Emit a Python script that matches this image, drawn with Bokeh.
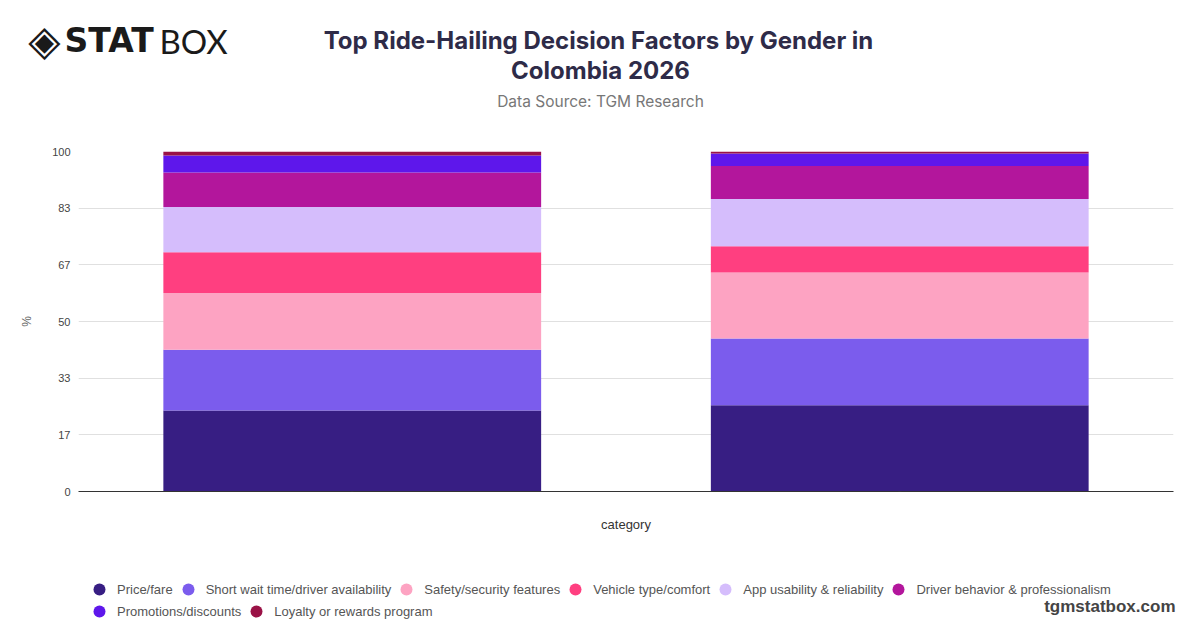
from bokeh.plotting import figure
from bokeh.layouts import column
from bokeh.models import (ColumnDataSource, FactorRange, FixedTicker, Legend, LegendItem, Label, Range1d)
from bokeh.embed import file_html
from bokeh.resources import INLINE

# ---- data ----
genders = ["Male", "Female"]
factors = ["Price/fare", "Short wait time/driver availability", "Safety/security features",
           "Vehicle type/comfort", "App usability & reliability", "Driver behavior & professionalism",
           "Promotions/discounts", "Loyalty or rewards program"]
male_values = [23.8, 17.9, 16.7, 12.0, 13.3, 10.1, 5.0, 1.2]
female_values = [25.4, 19.6, 19.4, 7.7, 13.9, 9.7, 3.7, 0.6]
colors = ["#371e83", "#7b5ced", "#fda3c2", "#ff3f80", "#d5bdfc", "#b3169c", "#5e17eb", "#9a1246"]
y_ticks = [0, 100 / 6, 200 / 6, 50, 400 / 6, 500 / 6, 100]
y_tick_labels = ["0", "17", "33", "50", "67", "83", "100"]

title_line1 = "Top Ride-Hailing Decision Factors by Gender in"
title_line2 = "Colombia 2026"
subtitle = "Data Source: TGM Research"
watermark = "tgmstatbox.com"

W = 1200
HEAD_H, MAIN_H, FOOT_H = 140, 400, 88


def blank_fig(h, y0):
    f = figure(width=W, height=h, x_range=Range1d(0, W), y_range=Range1d(y0 + h, y0),
               output_backend="svg", toolbar_location=None, x_axis_type=None, y_axis_type=None,
               min_border=0, frame_align=False)
    f.outline_line_color = None
    f.xgrid.visible = False
    f.ygrid.visible = False
    return f


def lab(f, x, y, text, size, color, font, style="normal", align="left"):
    f.add_layout(Label(x=x, y=y, text=text, text_align=align, text_baseline="middle",
                       text_font=font, text_font_size=size, text_font_style=style,
                       text_color=color))


# ---- header ----
head = blank_fig(HEAD_H, 0)
lab(head, 598, 40, title_line1, "24px", "#2e2b48", "Inter", "bold", "center")
lab(head, 600, 70, title_line2, "24px", "#2e2b48", "Inter", "bold", "center")
lab(head, 600, 101, subtitle, "15.5px", "#777777", "Inter", "normal", "center")
lab(head, 44, 40, "\u25c8", "42px", "#1a1a1a", "DejaVu Sans", "normal", "center")
lab(head, 64, 40, "STAT", "33px", "#1a1a1a", "DejaVu Sans", "bold", "left")
lab(head, 159, 40, "BOX", "33px", "#1a1a1a", "Lato", "normal", "left")

# ---- main chart ----
data = {"gender": genders}
for i, f in enumerate(factors):
    data[f] = [male_values[i], female_values[i]]
source = ColumnDataSource(data)

p = figure(width=W, height=MAIN_H, x_range=FactorRange(*genders, range_padding=0), y_range=(0, 100),
           output_backend="svg", toolbar_location=None, frame_align=False,
           min_border_left=78, min_border_right=27, min_border_top=11, min_border_bottom=49)
p.outline_line_color = None

p.vbar_stack(factors, x="gender", width=0.69, color=colors, line_color=None, source=source)

p.yaxis.ticker = FixedTicker(ticks=y_ticks)
p.yaxis.major_label_overrides = {t: l for t, l in zip(y_ticks, y_tick_labels)}
p.yaxis.axis_line_color = None
p.yaxis.major_tick_line_color = None
p.yaxis.minor_tick_line_color = None
p.yaxis.major_tick_out = 0
p.yaxis.major_label_standoff = 8
p.yaxis.major_label_text_font = "Liberation Sans"
p.yaxis.major_label_text_font_size = "11px"
p.yaxis.major_label_text_color = "#444444"
p.yaxis.axis_label = "%"
p.yaxis.axis_label_text_font = "Liberation Sans"
p.yaxis.axis_label_text_font_size = "12px"
p.yaxis.axis_label_text_font_style = "normal"
p.yaxis.axis_label_text_color = "#666666"
p.yaxis.axis_label_standoff = 15
p.ygrid.grid_line_color = "#e0e0e0"
p.ygrid.ticker = FixedTicker(ticks=y_ticks)

p.xgrid.grid_line_color = None
p.xaxis.axis_line_color = "#333333"
p.xaxis.major_tick_line_color = None
p.xaxis.major_tick_out = 0
p.xaxis.major_label_standoff = 0
p.xaxis.major_label_overrides = {g: "" for g in genders}
p.xaxis.major_label_text_font_size = "1px"
p.xaxis.axis_label = "category"
p.xaxis.axis_label_text_font = "Liberation Sans"
p.xaxis.axis_label_text_font_size = "13px"
p.xaxis.axis_label_text_font_style = "normal"
p.xaxis.axis_label_text_color = "#333333"
p.xaxis.axis_label_standoff = 21

# ---- footer (legend + watermark) ----
foot = blank_fig(FOOT_H, 540)
dummies = [foot.scatter(x=[-1000], y=[-1000], marker="circle", size=12, fill_color=c, line_color=None)
           for c in colors]


def make_legend(idx, loc):
    return Legend(items=[LegendItem(label=factors[i], renderers=[dummies[i]]) for i in idx],
                  location=loc, orientation="horizontal", glyph_width=30, glyph_height=30,
                  label_standoff=3, spacing=0, padding=0, margin=0,
                  border_line_color=None, background_fill_alpha=0,
                  label_text_font="Liberation Sans", label_text_font_size="13px",
                  label_text_color="#555555")


foot.add_layout(make_legend(range(0, 6), (84, 24)))
foot.add_layout(make_legend(range(6, 8), (84, 2)))
lab(foot, 1175, 606, watermark, "17px", "#444444", "Liberation Sans", "bold", "right")

layout = column(head, p, foot, spacing=0)
open("out.html", "w").write(file_html(layout, INLINE))
